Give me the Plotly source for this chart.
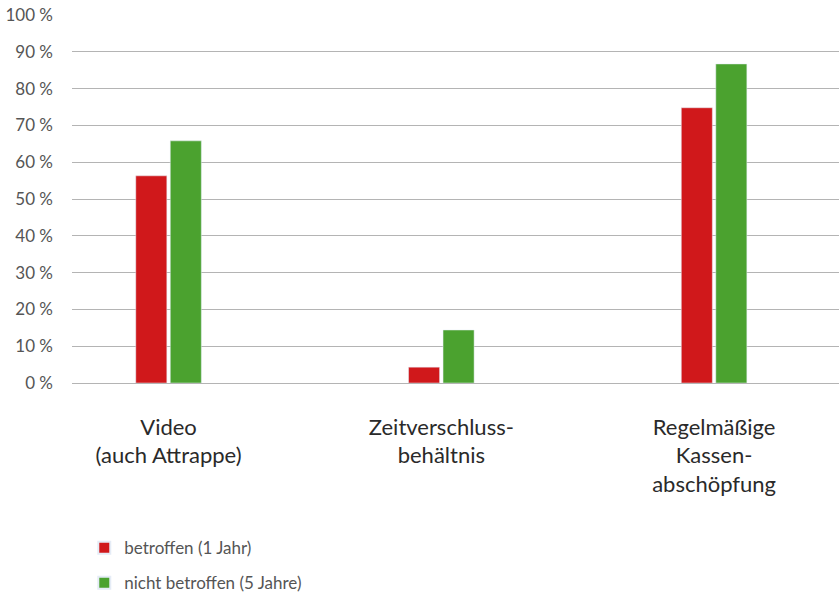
import plotly.graph_objects as go

categories = ["Video<br>(auch Attrappe)", "Zeitverschluss-<br>behältnis", "Regelmäßige<br>Kassen-<br>abschöpfung"]
series_names = ["betroffen (1 Jahr)", "nicht betroffen (5 Jahre)"]
betroffen = [56.3, 4.3, 74.8]
nicht_betroffen = [65.8, 14.4, 86.7]
tick_vals = [0, 10, 20, 30, 40, 50, 60, 70, 80, 90, 100]
tick_text = [f"{v}\u00a0%" for v in tick_vals]

RED = "#d0181b"
GREEN = "#4ba22f"
FONT = "Lato, Open Sans, sans-serif"

fig = go.Figure()
fig.add_trace(go.Bar(x=categories, y=betroffen, name=series_names[0], marker_color=RED,
                     legendgroup="a"))
fig.add_trace(go.Bar(x=categories, y=nicht_betroffen, name=series_names[1], marker_color=GREEN,
                     legendgroup="b"))

fig.update_layout(
    width=839, height=592,
    margin=dict(l=72, r=0, t=15, b=209, autoexpand=False),
    plot_bgcolor="white", paper_bgcolor="white",
    barmode="group", bargap=0.747, bargroupgap=0.1,
    font=dict(family=FONT, color="#444444"),
    legend=dict(x=0.016, y=-0.40, xanchor="left", yanchor="top",
                font=dict(size=17, color="#555555"), tracegroupgap=10,
                traceorder="grouped", itemsizing="constant"),
    showlegend=True,
)
fig.update_yaxes(range=[0, 100], tickvals=tick_vals, ticktext=tick_text,
                 showgrid=True, gridcolor="#b4b4b4", gridwidth=1.3,
                 zeroline=False, showline=False, automargin=False,
                 tickfont=dict(size=17, color="#555555"), ticklabelstandoff=18)
fig.update_xaxes(range=[-0.354, 2.458], showline=True, linecolor="#b4b4b4", linewidth=1.3,
                 automargin=False,
                 tickfont=dict(size=22, color="#2a2a2a"), ticks="", ticklabelstandoff=24)

fig.write_html("out.html", config={"displayModeBar": False},
               post_script="document.body.style.margin='0';")
